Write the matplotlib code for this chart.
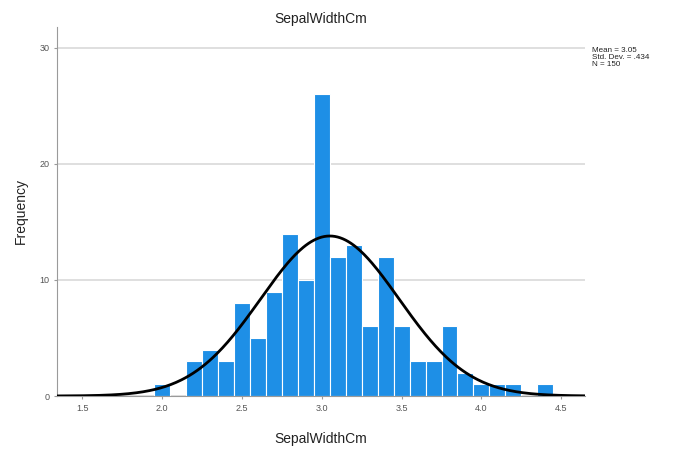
import numpy as np
import matplotlib.pyplot as plt

plt.rcParams['font.family'] = ['Liberation Sans', 'DejaVu Sans']

# sepal width values (cm) and how many flowers have each one
widths = [2.0, 2.2, 2.3, 2.4, 2.5, 2.6, 2.7, 2.8, 2.9, 3.0, 3.1, 3.2,
          3.3, 3.4, 3.5, 3.6, 3.7, 3.8, 3.9, 4.0, 4.1, 4.2, 4.4]
counts = [1, 3, 4, 3, 8, 5, 9, 14, 10, 26, 12, 13,
          6, 12, 6, 3, 3, 6, 2, 1, 1, 1, 1]
mean, sd, n = 3.05, 0.434, 150
bin_w = 0.1

fig = plt.figure(figsize=(6.78, 4.5), dpi=100)
ax = fig.add_axes([0.084, 0.12, 0.779, 0.82])

ax.bar(widths, counts, width=bin_w, color='#1e8fe6', edgecolor='white',
       linewidth=0.8, zorder=2)

# fitted normal curve scaled to counts per bin
xs = np.linspace(1.34, 4.65, 400)
ys = n * bin_w / (sd * np.sqrt(2 * np.pi)) * np.exp(-0.5 * ((xs - mean) / sd) ** 2)
ax.plot(xs, ys, color='black', linewidth=2, zorder=3)

ax.set_xlim(1.34, 4.65)
ax.set_ylim(0, 31.8)
ax.set_xticks([1.5, 2.0, 2.5, 3.0, 3.5, 4.0, 4.5])
ax.set_xticklabels(['1.5', '2.0', '2.5', '3.0', '3.5', '4.0', '4.5'])
ax.set_yticks([0, 10, 20, 30])
ax.yaxis.grid(True, color='#d9d9d9', linewidth=1.2, zorder=0)
ax.set_axisbelow(True)

for side in ['top', 'right']:
    ax.spines[side].set_visible(False)
ax.spines['left'].set_color('#9a9a9a')
ax.spines['bottom'].set_color('#9a9a9a')
ax.tick_params(axis='both', labelsize=6.5, colors='#555555', length=2,
               color='#9a9a9a')

ax.set_title('SepalWidthCm', fontsize=10, pad=3, color='#222222')
ax.set_xlabel('SepalWidthCm', fontsize=10, labelpad=14, color='#222222')
ax.set_ylabel('Frequency', fontsize=10, labelpad=8, color='#222222')

fig.text(0.873, 0.895, f'Mean = {mean:.2f}\nStd. Dev. = .434\nN = {n}',
         fontsize=5.8, va='top', ha='left', linespacing=1.0, color='#222222')

plt.savefig('out.png')
